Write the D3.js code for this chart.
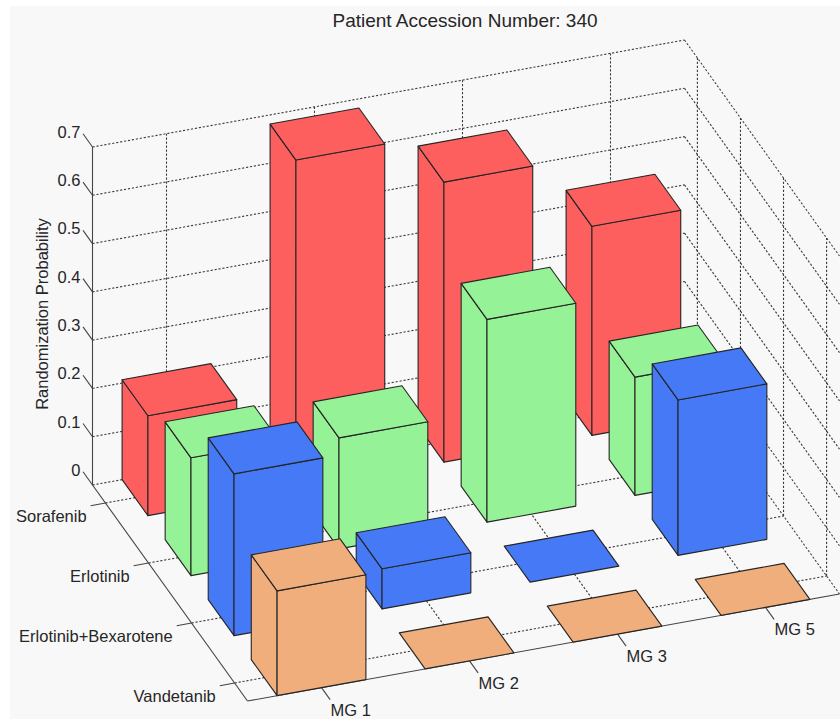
<!DOCTYPE html>
<html>
<head>
<meta charset="utf-8">
<script src="https://d3js.org/d3.v7.min.js"></script>
<style>
html, body { margin: 0; padding: 0; background: #fff; }
svg { display: block; }
text { font-family: "Liberation Sans", Arial, sans-serif; fill: #262626; }
</style>
</head>
<body>
<script>
var svgWidth = 840;
var svgHeight = 719;

var title = "Patient Accession Number: 340";
var zLabel = "Randomization Probability";

// Categories
var groupLabels = ["MG 1", "MG 2", "MG 3", "MG 5"];
var drugLabels = ["Sorafenib", "Erlotinib", "Erlotinib+Bexarotene", "Vandetanib"];
var zTicks = [0, 0.1, 0.2, 0.3, 0.4, 0.5, 0.6, 0.7];

// Randomization probability per MG group
var sorafenib = [0.207, 0.681, 0.58, 0.433];
var erlotinib = [0.244, 0.23, 0.42, 0.245];
var erlotinibBexarotene = [0.335, 0.083, 0, 0.322];
var vandetanib = [0.217, 0, 0, 0];

var seriesValues = [sorafenib, erlotinib, erlotinibBexarotene, vandetanib];
var seriesColors = ["#fd5f5f", "#96f296", "#4479f5", "#efae7b"];

var barWidth = 0.6;
var xLimits = [0, 4];       // group index runs 0..3, centred on i + 0.5
var yLimits = [0.7, 4.3];   // drug rows sit on 1, 2, 3, 4

// Oblique view: every data axis gets its own pair of screen scales
var origin = [92.5, 485];
var xToDx = d3.scaleLinear().domain(xLimits).range([0, 592]);
var xToDy = d3.scaleLinear().domain(xLimits).range([0, -107]);
var yToDx = d3.scaleLinear().domain(yLimits).range([0, 155]);
var yToDy = d3.scaleLinear().domain(yLimits).range([0, 216]);
var zToDy = d3.scaleLinear().domain([0, 0.7]).range([0, -338]);

function project(x, y, z) {
    return [
        origin[0] + xToDx(x) + yToDx(y),
        origin[1] + xToDy(x) + yToDy(y) + zToDy(z)
    ];
}

var line = d3.line();

var svg = d3.select("body").append("svg")
    .attr("width", svgWidth)
    .attr("height", svgHeight);

svg.append("rect")
    .attr("x", 10)
    .attr("y", 6)
    .attr("width", svgWidth - 10)
    .attr("height", svgHeight - 6)
    .attr("fill", "#f8f8f8");

var defs = svg.append("defs");
defs.append("filter")
    .attr("id", "soft")
    .append("feGaussianBlur")
    .attr("stdDeviation", 0.35);

var chartGroup = svg.append("g").attr("filter", "url(#soft)");

// Grid
var gridGroup = chartGroup.append("g")
    .attr("fill", "none")
    .attr("stroke", "#3c3c3c")
    .attr("stroke-width", 1.1)
    .attr("stroke-dasharray", "2.2,1.8");

function gridLine(a, b) {
    gridGroup.append("path").attr("d", line([project(a[0], a[1], a[2]), project(b[0], b[1], b[2])]));
}

var zTop = zTicks[zTicks.length - 1];

zTicks.forEach(function (z) {
    gridLine([xLimits[0], yLimits[0], z], [xLimits[1], yLimits[0], z]);   // back wall
    gridLine([xLimits[1], yLimits[0], z], [xLimits[1], yLimits[1], z]);   // right wall
});

groupLabels.forEach(function (d, i) {
    var x = i + 0.5;
    gridLine([x, yLimits[0], 0], [x, yLimits[0], zTop]);
    gridLine([x, yLimits[0], 0], [x, yLimits[1], 0]);
});

drugLabels.forEach(function (d, i) {
    var y = i + 1;
    gridLine([xLimits[1], y, 0], [xLimits[1], y, zTop]);
    gridLine([xLimits[0], y, 0], [xLimits[1], y, 0]);
});

// Axes
var axisGroup = chartGroup.append("g")
    .attr("fill", "none")
    .attr("stroke", "#444")
    .attr("stroke-width", 1.1);

function axisLine(a, b) {
    axisGroup.append("path").attr("d", line([project(a[0], a[1], a[2]), project(b[0], b[1], b[2])]));
}

axisLine([xLimits[0], yLimits[0], 0], [xLimits[0], yLimits[0], zTop]);
axisLine([xLimits[0], yLimits[0], 0], [xLimits[0], yLimits[1], 0]);
axisLine([xLimits[0], yLimits[1], 0], [xLimits[1], yLimits[1], 0]);

zTicks.forEach(function (z) {
    axisLine([xLimits[0], yLimits[0], z], [xLimits[0], yLimits[0] - 0.22, z]);
});
drugLabels.forEach(function (d, i) {
    axisLine([xLimits[0], i + 1, 0], [xLimits[0] - 0.1, i + 1, 0]);
});
groupLabels.forEach(function (d, i) {
    axisLine([i + 0.5, yLimits[1], 0], [i + 0.5, yLimits[1] + 0.2, 0]);
});

// Bars, far ones first: back rows first, and the right end of a row before the left
var bars = [];
drugLabels.forEach(function (drug, row) {
    d3.range(groupLabels.length - 1, -1, -1).forEach(function (col) {
        bars.push({ row: row, col: col, value: seriesValues[row][col] });
    });
});

var barGroups = chartGroup.selectAll(".bar")
    .data(bars)
    .enter()
    .append("g")
    .attr("class", "bar")
    .attr("fill", function (d) { return seriesColors[d.row]; })
    .attr("stroke", "#262626")
    .attr("stroke-width", 1.1)
    .attr("stroke-linejoin", "round");

function corners(d) {
    return {
        x0: d.col + 0.5 - barWidth / 2,
        x1: d.col + 0.5 + barWidth / 2,
        y0: d.row + 1 - barWidth / 2,
        y1: d.row + 1 + barWidth / 2
    };
}

// left face
barGroups.filter(function (d) { return d.value > 0; })
    .append("path")
    .attr("d", function (d) {
        var c = corners(d);
        return line([
            project(c.x0, c.y0, 0), project(c.x0, c.y1, 0),
            project(c.x0, c.y1, d.value), project(c.x0, c.y0, d.value)
        ]) + "Z";
    });

// front face
barGroups.filter(function (d) { return d.value > 0; })
    .append("path")
    .attr("d", function (d) {
        var c = corners(d);
        return line([
            project(c.x0, c.y1, 0), project(c.x1, c.y1, 0),
            project(c.x1, c.y1, d.value), project(c.x0, c.y1, d.value)
        ]) + "Z";
    });

// top face
barGroups.append("path")
    .attr("d", function (d) {
        var c = corners(d);
        return line([
            project(c.x0, c.y0, d.value), project(c.x1, c.y0, d.value),
            project(c.x1, c.y1, d.value), project(c.x0, c.y1, d.value)
        ]) + "Z";
    });

// Text
var textGroup = svg.append("g").attr("font-size", 16.5);

textGroup.append("text")
    .attr("x", 465)
    .attr("y", 27)
    .attr("text-anchor", "middle")
    .attr("font-size", 19)
    .text(title);

var zLabelPos = project(xLimits[0], yLimits[0], 0.35);
textGroup.append("text")
    .attr("transform", "translate(" + (zLabelPos[0] - 45) + "," + (zLabelPos[1] - 2) + ") rotate(-90)")
    .attr("text-anchor", "middle")
    .attr("font-size", 16.5)
    .text(zLabel);

textGroup.selectAll(".zTick")
    .data(zTicks)
    .enter()
    .append("text")
    .attr("class", "zTick")
    .attr("text-anchor", "end")
    .attr("x", function (d) { return project(xLimits[0], yLimits[0] - 0.22, d)[0] - 2.5; })
    .attr("y", function (d) { return project(xLimits[0], yLimits[0] - 0.22, d)[1] + 4; })
    .text(function (d) { return d; });

textGroup.selectAll(".drugTick")
    .data(drugLabels)
    .enter()
    .append("text")
    .attr("class", "drugTick")
    .attr("text-anchor", "end")
    .attr("x", function (d, i) { return project(xLimits[0] - 0.1, i + 1, 0)[0] - 4; })
    .attr("y", function (d, i) { return project(xLimits[0] - 0.1, i + 1, 0)[1] + 16; })
    .text(function (d) { return d; });

textGroup.selectAll(".groupTick")
    .data(groupLabels)
    .enter()
    .append("text")
    .attr("class", "groupTick")
    .attr("x", function (d, i) { return project(i + 0.5, yLimits[1] + 0.2, 0)[0] + 0.5; })
    .attr("y", function (d, i) { return project(i + 0.5, yLimits[1] + 0.2, 0)[1] + 16; })
    .text(function (d) { return d; });
</script>
</body>
</html>
